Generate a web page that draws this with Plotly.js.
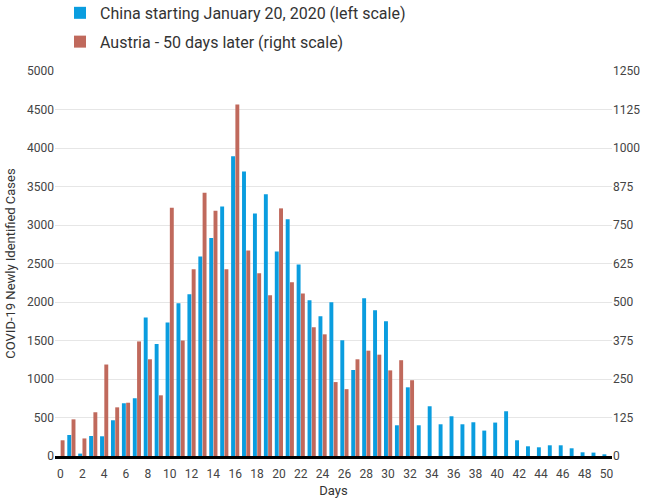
<!DOCTYPE html>
<html>
<head>
<meta charset="utf-8">
<script src="https://cdn.plot.ly/plotly-3.0.1.min.js"></script>
<style>html,body{margin:0;padding:0;background:#fff}#chart{width:650px;height:500px}</style>
</head>
<body>
<div id="chart"></div>
<script>
  // days since start
  const days = Array.from({ length: 51 }, (_, i) => i);

  // China, left scale
  const china = [0, 273, 31, 260, 256, 464, 685, 750, 1798, 1455, 1733, 1983, 2100, 2590, 2832,
    3240, 3893, 3694, 3149, 3400, 2655, 3075, 2486, 2022, 1815, 1997, 1503, 1117, 2048, 1893,
    1750, 399, 892, 399, 646, 412, 516, 412, 438, 330, 434, 581, 204, 126, 113, 139, 139, 100, 48, 44, 22];

  // Austria 50 days later, right scale
  const austria = [51, 119, 57, 142, 297, 158, 173, 372, 314, 197, 806, 375, 606, 855, 796,
    606, 1141, 667, 593, 522, 804, 564, 528, 418, 395, 240, 217, 314, 342, 329, 278, 311, 246];

  const leftTicks = [0, 500, 1000, 1500, 2000, 2500, 3000, 3500, 4000, 4500, 5000];
  const rightTicks = [0, 125, 250, 375, 500, 625, 750, 875, 1000, 1125, 1250];
  const xTicks = days.filter(d => d % 2 === 0);

  const tickFont = { family: "Roboto, sans-serif", size: 12, color: "#444" };

  const traces = [
    {
      type: "bar",
      name: "China starting January 20, 2020 (left scale)",
      legendgroup: "a",
      x: days,
      y: china,
      yaxis: "y",
      offsetgroup: "1",
      marker: { color: "#0a9ddf" },
    },
    {
      type: "bar",
      name: "Austria - 50 days later (right scale)",
      legendgroup: "b",
      x: days.slice(0, austria.length),
      y: austria,
      yaxis: "y2",
      offsetgroup: "2",
      marker: { color: "#c0695c" },
    },
  ];

  const layout = {
    width: 650,
    height: 500,
    margin: { l: 55, r: 38, t: 71, b: 44, autoexpand: false },
    paper_bgcolor: "#fff",
    plot_bgcolor: "#fff",
    barmode: "group",
    bargap: 0.22,
    bargroupgap: 0.08,
    font: { family: "Roboto, sans-serif", color: "#333" },
    showlegend: true,
    legend: {
      x: 0.009, y: 1.195, xanchor: "left", yanchor: "top",
      font: { size: 16, color: "#333" },
      traceorder: "grouped",
      itemwidth: 30,
      tracegroupgap: 5,
      bgcolor: "rgba(0,0,0,0)",
    },
    xaxis: {
      range: [-0.5, 50.5],
      tickvals: xTicks,
      ticks: "",
      ticklabelstandoff: 5,
      tickfont: tickFont,
      showgrid: false,
      zeroline: false,
      showline: true,
      linecolor: "#000",
      linewidth: 3,
      title: { text: "Days", font: { size: 13, color: "#333" }, standoff: 6 },
    },
    yaxis: {
      range: [0, 5000],
      tickvals: leftTicks,
      tickfont: tickFont,
      gridcolor: "#e6e6e6",
      zeroline: false,
      showline: false,
      title: { text: "COVID-19 Newly Identified Cases", font: { size: 13, color: "#333" }, standoff: 8 },
    },
    yaxis2: {
      range: [0, 1250],
      tickvals: rightTicks,
      tickfont: tickFont,
      overlaying: "y",
      side: "right",
      showgrid: false,
      zeroline: false,
      showline: false,
    },
  };

  Plotly.newPlot("chart", traces, layout, { displayModeBar: false, staticPlot: true });
</script>
</body>
</html>
